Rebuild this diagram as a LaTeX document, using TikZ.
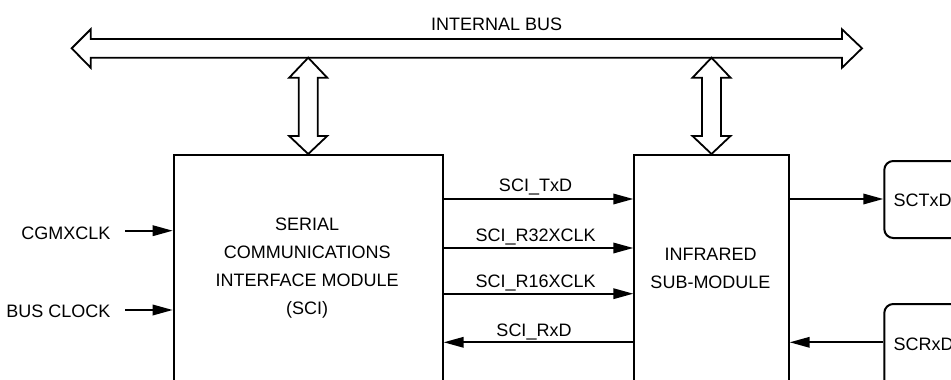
\documentclass[tikz,border=0pt]{standalone}
\usepackage{fontspec}
\setmainfont{Liberation Sans}
\usetikzlibrary{arrows.meta,calc}
\begin{document}
\begin{tikzpicture}[x=1pt,y=-1pt,
  lbl/.style={font=\fontsize{18}{28}\selectfont, inner sep=0pt},
  blk/.style={draw, line width=2pt, inner sep=0pt},
  rblk/.style={blk, rounded corners=9pt},
  sig/.style={line width=1.8pt, -{Triangle[length=20pt,width=10.5pt]}},
  fat/.style={draw, line width=1.8pt, fill=white, line join=miter}]
\useasboundingbox (0,0) rectangle (951,380);
\clip (0,0) rectangle (951,380);

% blocks
\node[blk, minimum width=269pt, minimum height=280pt, anchor=north west] (sci) at (172.7,154) {};
\node[blk, minimum width=154.4pt, minimum height=280pt, anchor=north west] (ir) at (633.3,154) {};
\node[rblk, minimum width=100pt, minimum height=77pt, anchor=north west] (tx) at (883.3,160) {};
\node[rblk, minimum width=100pt, minimum height=120pt, anchor=north west] (rx) at (883.3,303) {};

% block texts
\node[lbl, align=center] (scitext) at (307.2,268.2) {SERIAL\\COMMUNICATIONS\\INTERFACE MODULE\\(SCI)};
\node[lbl, align=center] (irtext) at (710.5,268) {INFRARED\\SUB-MODULE};
\node[lbl, anchor=base west] (txtext) at (893.3,206.7) {SCTxD};
\node[lbl, anchor=base west] (rxtext) at (893.3,350) {SCRxD};

% internal bus
\draw[fat] (71.7,48.3) -- (90.7,29.3) -- (90.7,39) -- (842,39) -- (842,29.3) -- (862,48.3)
  -- (842,67.7) -- (842,57.7) -- (90.7,57.7) -- (90.7,67.7) -- cycle;
\node[lbl, anchor=base] (bustext) at (496.7,30.7) {INTERNAL BUS};

% bus connections
\foreach \b in {sci,ir}{
  \draw[fat] ($(\b.north)+(0,-96.3)$) -- ($(\b.north)+(19,-76.3)$) -- ($(\b.north)+(9.5,-76.3)$)
    -- ($(\b.north)+(9.5,-18)$) -- ($(\b.north)+(19,-18)$) -- (\b.north)
    -- ($(\b.north)+(-19,-18)$) -- ($(\b.north)+(-9.5,-18)$) -- ($(\b.north)+(-9.5,-76.3)$)
    -- ($(\b.north)+(-19,-76.3)$) -- cycle;
}

% clock inputs
\node[lbl, anchor=base east] (cgm) at (110.5,239.3) {CGMXCLK};
\node[lbl, anchor=base east] (busclk) at (110.5,317) {BUS CLOCK};
\coordinate (cgmin) at (125,230.7);
\coordinate (busin) at (125,310);
\draw[sig] (cgmin) -- (sci.west |- cgmin);
\draw[sig] (busin) -- (sci.west |- busin);

% internal signals
\coordinate (l1) at (0,199);
\coordinate (l2) at (0,248);
\coordinate (l3) at (0,293.7);
\coordinate (l4) at (0,342.3);
\draw[sig] (sci.east |- l1) -- (ir.west |- l1);
\draw[sig] (sci.east |- l2) -- (ir.west |- l2);
\draw[sig] (sci.east |- l3) -- (ir.west |- l3);
\draw[sig] (ir.west |- l4) -- (sci.east |- l4);
\node[lbl, anchor=base] (txd) at (535.5,191.7) {SCI\_TxD};
\node[lbl, anchor=base] (r32) at (535.7,241.7) {SCI\_R32XCLK};
\node[lbl, anchor=base] (r16) at (535.7,287.3) {SCI\_R16XCLK};
\node[lbl, anchor=base] (rxd) at (534,336.7) {SCI\_RxD};

% external pins
\draw[sig] (ir.east |- l1) -- (tx.west |- l1);
\draw[sig] (rx.west |- l4) -- (ir.east |- l4);
\end{tikzpicture}
\end{document}
